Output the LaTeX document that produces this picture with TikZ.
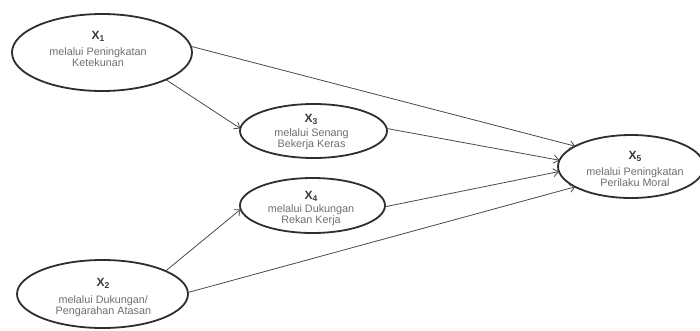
\documentclass[tikz,border=0pt]{standalone}
\usepackage{fontspec}
\setmainfont{Liberation Sans}
\usetikzlibrary{shapes.geometric,arrows.meta}
\definecolor{ellc}{HTML}{2E2E2E}
\definecolor{linec}{HTML}{4A4A4A}
\definecolor{titc}{HTML}{3A3A3A}
\definecolor{descc}{HTML}{6E6E6E}
\tikzset{
 ell/.style={ellipse, draw=ellc, line width=1.8pt, inner sep=0pt, outer sep=0pt},
 ttl/.style={anchor=base, inner sep=0pt, text=titc, font=\fontsize{12}{12}\selectfont\bfseries},
 dsc/.style={anchor=base, inner sep=0pt, align=center, text=descc, font=\fontsize{10.8}{#1}\selectfont},
 dsc/.default=10.8,
 conn/.style={draw=linec, line width=0.8pt, -{Straight Barb[length=5pt,width=8pt]}},
}
\newcommand{\xsub}[1]{X\raisebox{-1.8pt}{\fontsize{8.5}{8.5}\selectfont #1}}
\begin{document}
\begin{tikzpicture}[x=1pt,y=-1pt]
\useasboundingbox (0,0) rectangle (700,330);
% ellipses
\node[ell, minimum width=180pt, minimum height=77pt] (x1) at (102,52.5) {};
\node[ell, minimum width=147pt, minimum height=54pt] (x3) at (313.5,131) {};
\node[ell, minimum width=145pt, minimum height=55pt] (x4) at (312.5,205.5) {};
\node[ell, minimum width=171pt, minimum height=68pt] (x2) at (102.5,294) {};
\node[ell, minimum width=146pt, minimum height=63pt] (x5) at (631,166.5) {};
% titles
\node[ttl] (x1t) at (98,39.3) {\xsub{1}};
\node[ttl] (x3t) at (311,122.6) {\xsub{3}};
\node[ttl] (x4t) at (311,199.6) {\xsub{4}};
\node[ttl] (x2t) at (103,286.6) {\xsub{2}};
\node[ttl] (x5t) at (635,159.3) {\xsub{5}};
% descriptions (anchored at the baseline of the last line)
\node[dsc=10.4] (x1d) at (98,66.3) {melalui Peningkatan\\Ketekunan};
\node[dsc=11.4] (x3d) at (311.5,147.7) {melalui Senang\\Bekerja Keras};
\node[dsc=11.4] (x4d) at (311,223.7) {melalui Dukungan\\Rekan Kerja};
\node[dsc=11] (x2d) at (103.3,314) {melalui Dukungan/\\Pengarahan Atasan};
\node[dsc=10.4] (x5d) at (635,186.3) {melalui Peningkatan\\Perilaku Moral};
% connectors
\draw[conn] (x1.4) -- (x5.160);
\draw[conn] (x3.2) -- (x5.175);
\draw[conn] (x4.359) -- (x5.184);
\draw[conn] (x2.1) -- (x5.200);
\draw[conn] (x1.337) -- (x3.178);
\draw[conn] (x2.20) -- (x4.183);
\end{tikzpicture}
\end{document}
